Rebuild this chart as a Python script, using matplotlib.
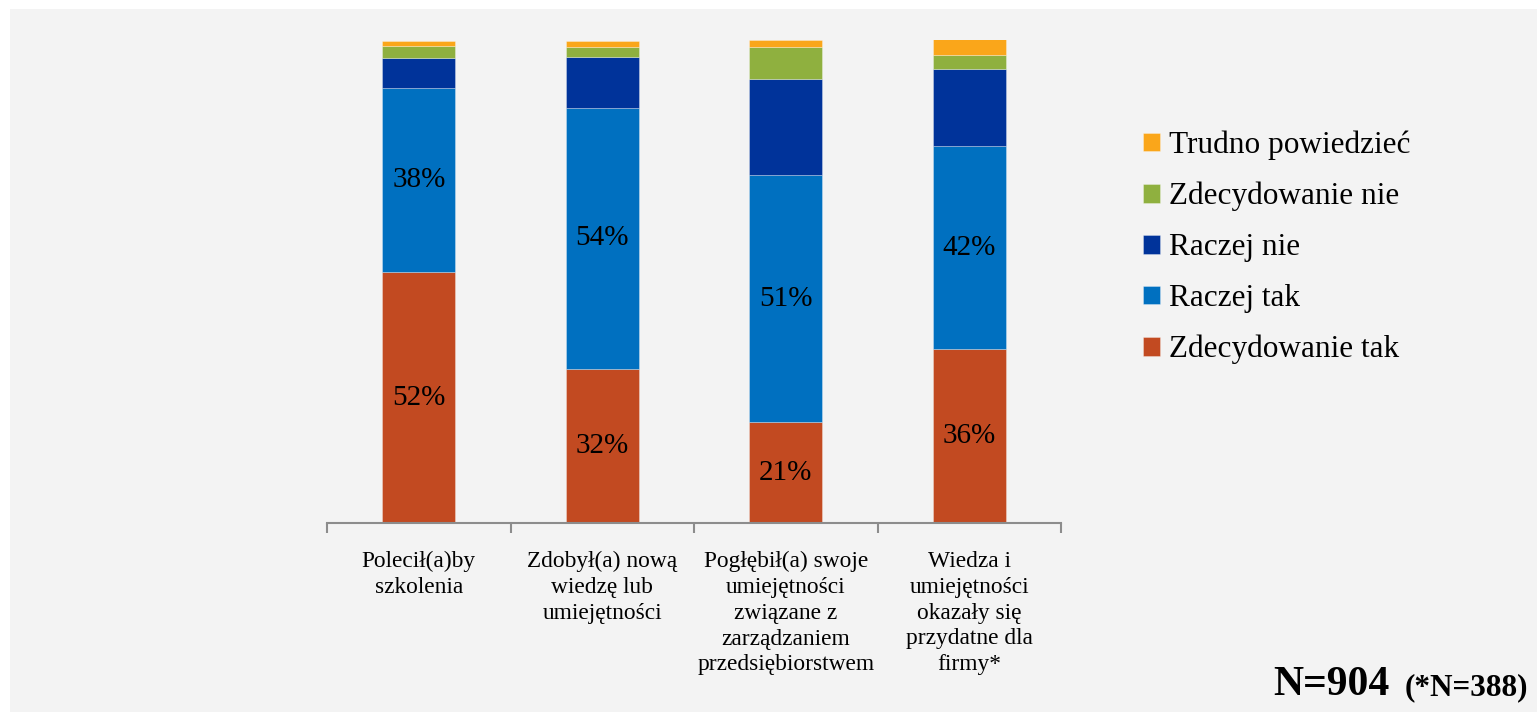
import matplotlib.pyplot as plt
from matplotlib.patches import Rectangle
import numpy as np

plt.rcParams['font.family'] = ['Liberation Serif', 'DejaVu Serif']

categories = ['Polecił(a)by\nszkolenia',
              'Zdobył(a) nową\nwiedzę lub\numiejętności',
              'Pogłębił(a) swoje\numiejętności\nzwiązane z\nzarządzaniem\nprzedsiębiorstwem',
              'Wiedza i\numiejętności\nokazały się\nprzydatne dla\nfirmy*']
series_names = ['Zdecydowanie tak', 'Raczej tak', 'Raczej nie', 'Zdecydowanie nie', 'Trudno powiedzieć']
zdecydowanie_tak = [52, 32, 21, 36]
raczej_tak = [38, 54, 51, 42]
raczej_nie = [6.3, 10.4, 19.9, 15.9]
zdecydowanie_nie = [2.5, 2.2, 6.6, 2.9]
trudno = [1.0, 1.1, 1.4, 3.6]
shown_labels = [True, True, False, False, False]
colors = ['#C24A21', '#0070C0', '#00339A', '#8FB03F', '#FAA61A']

series = [zdecydowanie_tak, raczej_tak, raczej_nie, zdecydowanie_nie, trudno]

fig = plt.figure(figsize=(15.37, 7.12), dpi=100)
fig.patch.set_facecolor('white')
fig.patches.append(Rectangle((10 / 1537, 0), 1 - 10 / 1537, 1 - 9 / 712,
                             transform=fig.transFigure, facecolor='#F3F3F3',
                             edgecolor='none', zorder=-10))

ax = fig.add_axes([327 / 1537, 1 - 523.3 / 712, (1061 - 327) / 1537, (523.3 - 40) / 712])
ax.set_facecolor('none')

x = np.arange(len(categories))
bottom = np.zeros(len(categories))
handles = []
for name, vals, col, show in zip(series_names, series, colors, shown_labels):
    vals = np.array(vals, dtype=float)
    bars = ax.bar(x, vals, 0.4, bottom=bottom, color=col, label=name,
                  edgecolor=(1, 1, 1, 0.35), linewidth=0.6)
    handles.append(bars)
    if show:
        for xi, b, v in zip(x, bottom, vals):
            ax.text(xi, b + v / 2, '{:.0f}%'.format(v), ha='center', va='center',
                    fontsize=21, color='black')
    bottom += vals

ax.set_xlim(-0.5, len(categories) - 0.5)
ax.set_ylim(0, 100)
ax.set_yticks([])
for s in ['top', 'right', 'left']:
    ax.spines[s].set_visible(False)
ax.spines['bottom'].set_color('#8C8C8C')
ax.spines['bottom'].set_linewidth(1.5)

ax.set_xticks(x)
ax.set_xticklabels(categories, fontsize=16.8, linespacing=1.3)
ax.tick_params(axis='x', which='major', length=0, pad=20)
ax.set_xticks(np.arange(-0.5, len(categories)), minor=True)
ax.tick_params(axis='x', which='minor', length=7, width=1.5, color='#8C8C8C', direction='out')

leg = fig.legend(handles[::-1], series_names[::-1], loc='upper left',
                 bbox_to_anchor=(1130 / 1537, 1 - 118 / 712), frameon=False,
                 fontsize=22.5, handlelength=0.55, handleheight=0.55,
                 handletextpad=0.3, labelspacing=0.7, borderaxespad=0)

fig.text(1273 / 1537, 1 - 695 / 712, 'N=904', fontsize=30, fontweight='bold',
         ha='left', va='baseline')
fig.text(1528 / 1537, 1 - 695 / 712, '(*N=388)', fontsize=22.5, fontweight='bold',
         ha='right', va='baseline')

plt.savefig('out.png', dpi=100, facecolor=fig.get_facecolor())
